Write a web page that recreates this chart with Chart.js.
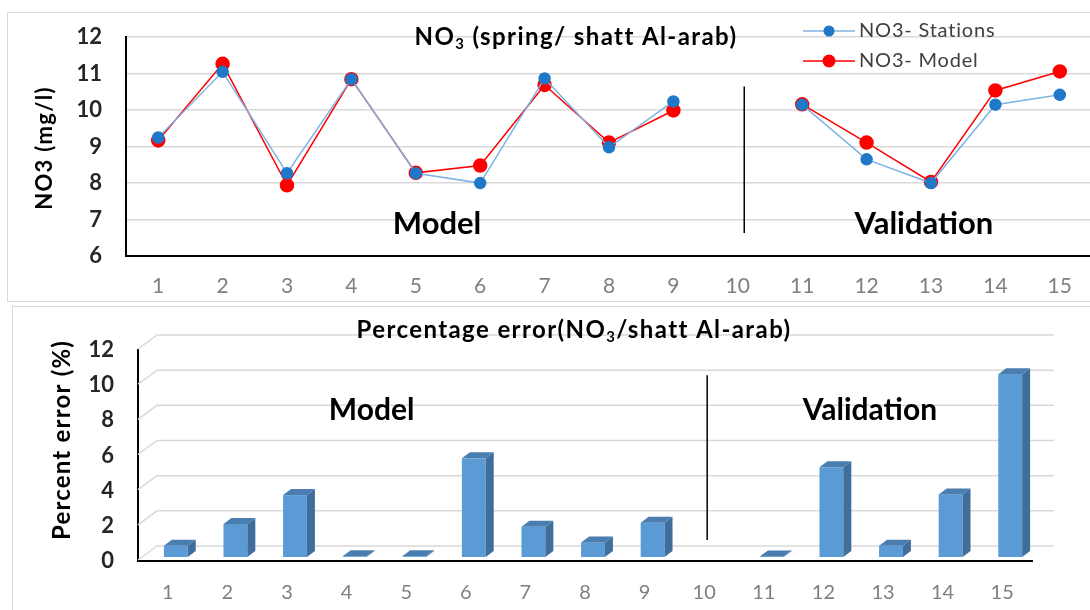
<!DOCTYPE html>
<html>
<head>
<meta charset="utf-8">
<script src="https://cdn.jsdelivr.net/npm/chart.js@4.4.0/dist/chart.umd.min.js"></script>
<style>
  body { margin: 0; background: #fff; width: 1090px; height: 610px; overflow: hidden; position: relative; }
  .box { position: absolute; border: 1px solid #d9d9d9; box-sizing: border-box; }
  #topBox { left: 7px; top: 12px; width: 1100px; height: 290px; }
  #botBox { left: 12px; top: 306px; width: 1100px; height: 320px; }
  #topChart { position: absolute; left: 0; top: 0; }
  #botChart { position: absolute; left: 0; top: 302px; }
</style>
</head>
<body>
<div class="box" id="topBox"></div>
<div class="box" id="botBox"></div>
<canvas id="topChart" width="1100" height="302"></canvas>
<canvas id="botChart" width="1090" height="308"></canvas>
<script>
// stations along the river
const stations = ['1', '2', '3', '4', '5', '6', '7', '8', '9', '10', '11', '12', '13', '14', '15'];

// NO3 (mg/l), spring
const no3Stations = [9.25, 11.05, 8.27, 10.85, 8.27, 8.0, 10.87, 8.98, 10.24, null, 10.15, 8.65, 8.0, 10.15, 10.42];
const no3Model    = [9.17, 11.27, 7.94, 10.85, 8.28, 8.48, 10.69, 9.11, 9.99, null, 10.16, 9.11, 8.03, 10.54, 11.06];

// percentage error (%)
const percentError = [0.64, 1.88, 3.52, 0.04, 0.04, 5.61, 1.72, 0.83, 1.95, null, 0.03, 5.1, 0.64, 3.56, 10.4];

const no3Axis = [6, 12, 1];      // min, max, step
const errorAxis = [0, 12, 2];

const FONT = 'Lato, "Open Sans", sans-serif';

function subText(ctx, parts, cx, cy, size, spacing) {
  // bold text with a subscript part, centred on cx
  ctx.letterSpacing = spacing + 'px';
  let w = 0;
  parts.forEach(p => {
    ctx.font = 'bold ' + (p.sub ? size * 0.62 : size) + 'px ' + FONT;
    w += ctx.measureText(p.t).width;
  });
  let x = cx - w / 2;
  ctx.textAlign = 'left';
  ctx.textBaseline = 'middle';
  parts.forEach(p => {
    ctx.font = 'bold ' + (p.sub ? size * 0.62 : size) + 'px ' + FONT;
    ctx.fillText(p.t, x, p.sub ? cy + size * 0.32 : cy);
    x += ctx.measureText(p.t).width;
  });
  ctx.letterSpacing = '0px';
}

function vTitle(ctx, text, x, y, size, spacing) {
  ctx.save();
  ctx.translate(x, y);
  ctx.rotate(-Math.PI / 2);
  ctx.letterSpacing = spacing + 'px';
  ctx.font = 'bold ' + size + 'px ' + FONT;
  ctx.fillStyle = '#000';
  ctx.textAlign = 'center';
  ctx.textBaseline = 'middle';
  ctx.fillText(text, 0, 0);
  ctx.restore();
}

const topExtras = {
  id: 'topExtras',
  afterDraw(chart) {
    const ctx = chart.ctx;
    const xs = chart.scales.x, ys = chart.scales.y;
    ctx.save();
    ctx.fillStyle = '#000';
    subText(ctx, [{ t: 'NO' }, { t: '3', sub: true }, { t: ' (spring/ shatt Al-arab)' }], 576, 37, 24, 1.4);

    // divider between model and validation
    ctx.strokeStyle = '#000';
    ctx.lineWidth = 1.5;
    ctx.beginPath();
    ctx.moveTo(xs.getPixelForValue(9.1), ys.getPixelForValue(10.65));
    ctx.lineTo(xs.getPixelForValue(9.1), ys.getPixelForValue(6.63));
    ctx.stroke();

    ctx.font = 'bold 31px ' + FONT;
    ctx.textAlign = 'center';
    ctx.textBaseline = 'middle';
    ctx.fillText('Model', xs.getPixelForValue(4.33), ys.getPixelForValue(6.88));
    ctx.fillText('Validation', xs.getPixelForValue(11.89), ys.getPixelForValue(6.88));

    // legend
    chart.data.datasets.forEach((ds, i) => {
      const ly = 31 + i * 30;
      ctx.strokeStyle = ds.borderColor;
      ctx.lineWidth = 1.5;
      ctx.beginPath();
      ctx.moveTo(803, ly);
      ctx.lineTo(855, ly);
      ctx.stroke();
      ctx.fillStyle = ds.pointBackgroundColor;
      ctx.beginPath();
      ctx.arc(829, ly, ds.pointRadius, 0, Math.PI * 2);
      ctx.fill();
      ctx.fillStyle = '#404040';
      ctx.font = '20px ' + FONT;
      ctx.letterSpacing = '0.8px';
      ctx.textAlign = 'left';
      ctx.fillText(ds.label, 859, ly);
      ctx.letterSpacing = '0px';
    });

    vTitle(ctx, 'NO3 (mg/l)', 45, 148, 22, 1.3);
    ctx.restore();
  }
};

new Chart(document.getElementById('topChart'), {
  type: 'line',
  data: {
    labels: stations,
    datasets: [{
      label: 'NO3- Stations',
      data: no3Stations,
      borderColor: '#7fb3e3',
      borderWidth: 1.5,
      pointBackgroundColor: '#1f78c8',
      pointBorderColor: '#1f78c8',
      pointRadius: 5.5,
      tension: 0
    }, {
      label: 'NO3- Model',
      data: no3Model,
      borderColor: '#ff0000',
      borderWidth: 1.5,
      pointBackgroundColor: '#ff0000',
      pointBorderColor: '#ff0000',
      pointRadius: 6.5,
      tension: 0
    }]
  },
  options: {
    responsive: false,
    animation: false,
    devicePixelRatio: 1,
    layout: { padding: { top: 29, right: 3, left: 0, bottom: 0 } },
    plugins: { legend: { display: false }, tooltip: { enabled: false } },
    scales: {
      x: {
        offset: true,
        grid: { display: false, drawTicks: false, offset: true },
        border: { color: '#000', width: 2 },
        ticks: { color: '#7f7f7f', font: { family: FONT, size: 21 }, padding: 18 },
        afterFit: s => { s.height = 46; }
      },
      y: {
        min: no3Axis[0], max: no3Axis[1],
        ticks: { stepSize: no3Axis[2], color: '#262626', font: { family: FONT, size: 22, weight: 'bold' }, padding: 24 },
        grid: { color: '#d9d9d9', lineWidth: 1.5, drawTicks: false },
        border: { color: '#000', width: 2 },
        afterFit: s => { s.width = 126; }
      }
    }
  },
  plugins: [topExtras]
});

// 3D look for the error bars
const DX = 8, DY = 6, SHIFT_X = 8, SHIFT_Y = -4;
const bar3d = {
  id: 'bar3d',
  beforeDatasetsDraw(chart) {
    const ctx = chart.ctx;
    const xs = chart.scales.x, ys = chart.scales.y;
    ctx.save();
    ctx.strokeStyle = '#d9d9d9';
    ctx.lineWidth = 1.5;
    ys.ticks.forEach(t => {
      const py = ys.getPixelForValue(t.value) - 1;
      ctx.beginPath();
      ctx.moveTo(xs.left, py);
      ctx.lineTo(xs.left + 19, py - 14);
      ctx.lineTo(xs.right + 22, py - 14);
      ctx.stroke();
    });
    ctx.restore();
  },
  beforeDatasetDraw(chart, args) {
    const ctx = chart.ctx;
    const meta = args.meta;
    ctx.save();
    meta.data.forEach((bar, i) => {
      if (chart.data.datasets[0].data[i] == null) return;
      const x0 = bar.x - bar.width / 2 + SHIFT_X, x1 = bar.x + bar.width / 2 + SHIFT_X;
      const top = bar.y + SHIFT_Y, base = bar.base + SHIFT_Y;
      ctx.fillStyle = '#5b9bd5';
      ctx.fillRect(x0, top, x1 - x0, base - top);
      ctx.fillStyle = '#3f6e9c';
      ctx.beginPath();
      ctx.moveTo(x1, top); ctx.lineTo(x1 + DX, top - DY); ctx.lineTo(x1 + DX, base - DY); ctx.lineTo(x1, base);
      ctx.closePath(); ctx.fill();
      ctx.fillStyle = '#4a7db0';
      ctx.beginPath();
      ctx.moveTo(x0, top); ctx.lineTo(x0 + DX, top - DY); ctx.lineTo(x1 + DX, top - DY); ctx.lineTo(x1, top);
      ctx.closePath(); ctx.fill();
    });
    ctx.restore();
    return false;
  },
  afterDraw(chart) {
    const ctx = chart.ctx;
    const xs = chart.scales.x, ys = chart.scales.y;
    ctx.save();
    ctx.fillStyle = '#000';
    subText(ctx, [{ t: 'Percentage error(NO' }, { t: '3', sub: true }, { t: '/shatt Al-arab)' }], 574, 28, 24, 1.4);

    ctx.strokeStyle = '#000';
    ctx.lineWidth = 1.5;
    ctx.beginPath();
    ctx.moveTo(xs.getPixelForValue(9.05), ys.getPixelForValue(10.57));
    ctx.lineTo(xs.getPixelForValue(9.05), ys.getPixelForValue(1.2));
    ctx.stroke();

    ctx.font = 'bold 30px ' + FONT;
    ctx.textAlign = 'center';
    ctx.textBaseline = 'middle';
    ctx.fillText('Model', xs.getPixelForValue(3.42), ys.getPixelForValue(8.58));
    ctx.fillText('Validation', xs.getPixelForValue(11.78), ys.getPixelForValue(8.58));

    vTitle(ctx, 'Percent error (%)', 62, 138, 24, 1.2);
    ctx.restore();
  }
};

new Chart(document.getElementById('botChart'), {
  type: 'bar',
  data: {
    labels: stations,
    datasets: [{
      label: 'Percent error',
      data: percentError,
      backgroundColor: '#5b9bd5',
      categoryPercentage: 1,
      barPercentage: 0.4
    }]
  },
  options: {
    responsive: false,
    animation: false,
    devicePixelRatio: 1,
    layout: { padding: { top: 48, right: 58, left: 0, bottom: 0 } },
    plugins: { legend: { display: false }, tooltip: { enabled: false } },
    scales: {
      x: {
        grid: { display: false, drawTicks: false },
        border: { color: '#000', width: 2 },
        ticks: { color: '#7f7f7f', font: { family: FONT, size: 20 }, padding: 20 },
        afterFit: s => { s.height = 49; }
      },
      y: {
        min: errorAxis[0], max: errorAxis[1],
        ticks: { stepSize: errorAxis[2], color: '#262626', font: { family: FONT, size: 22, weight: 'bold' }, padding: 24 },
        grid: { display: false, drawTicks: false },
        border: { color: '#000', width: 2 },
        afterFit: s => { s.width = 138; }
      }
    }
  },
  plugins: [bar3d]
});
</script>
</body>
</html>
